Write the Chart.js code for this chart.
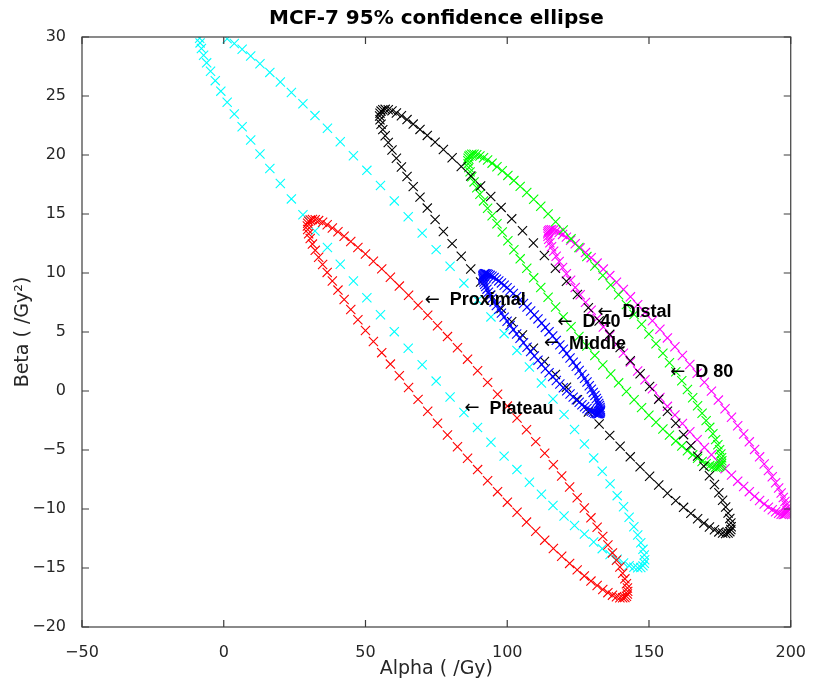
<!DOCTYPE html>
<html>
<head>
<meta charset="utf-8">
<script src="https://cdn.jsdelivr.net/npm/chart.js@4/dist/chart.umd.min.js"></script>
<style>
  body { margin: 0; background: #fff; }
  #wrap { width: 814px; height: 686px; }
</style>
</head>
<body>
<div id="wrap"><canvas id="ellipseChart"></canvas></div>
<script>
// ellipse outlines, [alpha, beta] pairs
const plateau = [
    [142.5,-16.98],[29.5,13.98],
    [142.39,-16.69],[142.39,-17.21],[29.61,14.21],[29.61,13.69],
    [142.05,-16.33],[142.05,-17.39],[29.95,14.39],[29.95,13.33],
    [141.5,-15.92],[141.5,-17.5],[30.5,14.5],[30.5,12.92],
    [140.72,-15.45],[140.72,-17.53],[31.28,14.53],[31.28,12.45],
    [139.73,-14.92],[139.73,-17.52],[32.27,14.52],[32.27,11.92],
    [138.53,-14.34],[138.53,-17.44],[33.47,14.44],[33.47,11.34],
    [137.12,-13.72],[137.12,-17.3],[34.88,14.3],[34.88,10.72],
    [135.51,-13.05],[135.51,-17.09],[36.49,14.09],[36.49,10.05],
    [133.7,-12.32],[133.7,-16.82],[38.3,13.82],[38.3,9.32],
    [131.71,-11.55],[131.71,-16.49],[40.29,13.49],[40.29,8.55],
    [129.53,-10.75],[129.53,-16.11],[42.47,13.11],[42.47,7.75],
    [127.19,-9.91],[127.19,-15.67],[44.81,12.67],[44.81,6.91],
    [124.68,-9.04],[124.68,-15.16],[47.32,12.16],[47.32,6.04],
    [122.01,-8.13],[122.01,-14.61],[49.99,11.61],[49.99,5.13],
    [119.21,-7.2],[119.21,-14.0],[52.79,11.0],[52.79,4.2],
    [116.27,-6.25],[116.27,-13.35],[55.73,10.35],[55.73,3.25],
    [113.22,-5.28],[113.22,-12.64],[58.78,9.64],[58.78,2.28],
    [110.06,-4.29],[110.06,-11.89],[61.94,8.89],[61.94,1.29],
    [106.8,-3.29],[106.8,-11.11],[65.2,8.11],[65.2,0.29],
    [103.46,-2.29],[103.46,-10.27],[68.54,7.27],[68.54,-0.71],
    [100.05,-1.28],[100.05,-9.42],[71.95,6.42],[71.95,-1.72],
    [96.59,-0.27],[96.59,-8.53],[75.41,5.53],[75.41,-2.73],
    [93.08,0.73],[93.08,-7.61],[78.92,4.61],[78.92,-3.73],
    [89.55,1.72],[89.55,-6.66],[82.45,3.66],[82.45,-4.72],
    [86,2.7],[86,-5.7]
];

const proximal = [
    [148.5,-14.3],[-8.5,29.9],
    [148.35,-13.9],[148.35,-14.6],[-8.35,29.5],
    [147.88,-13.42],[147.88,-14.82],[-7.88,29.02],
    [147.11,-12.86],[147.11,-14.96],[-7.11,28.46],
    [146.03,-12.21],[146.03,-14.99],[-6.03,27.81],
    [144.66,-11.5],[144.66,-14.94],[-4.66,27.1],
    [142.99,-10.7],[142.99,-14.8],[-2.99,26.3],
    [141.03,-9.81],[141.03,-14.57],[-1.03,25.41],
    [138.79,-8.87],[138.79,-14.25],[1.21,29.85],[1.21,24.47],
    [136.28,-7.87],[136.28,-13.85],[3.72,29.45],[3.72,23.47],
    [133.51,-6.8],[133.51,-13.36],[6.49,28.96],[6.49,22.4],
    [130.49,-5.67],[130.49,-12.79],[9.51,28.39],[9.51,21.27],
    [127.22,-4.49],[127.22,-12.13],[12.78,27.73],[12.78,20.09],
    [123.74,-3.26],[123.74,-11.4],[16.26,27.0],[16.26,18.86],
    [120.04,-1.99],[120.04,-10.59],[19.96,26.19],[19.96,17.59],
    [116.14,-0.68],[116.14,-9.7],[23.86,25.3],[23.86,16.28],
    [112.06,0.67],[112.06,-8.75],[27.94,24.35],[27.94,14.93],
    [107.82,2.04],[107.82,-7.74],[32.18,23.34],[32.18,13.56],
    [103.42,3.44],[103.42,-6.66],[36.58,22.26],[36.58,12.16],
    [98.9,4.86],[98.9,-5.52],[41.1,21.12],[41.1,10.74],
    [94.26,6.28],[94.26,-4.34],[45.74,19.94],[45.74,9.32],
    [89.52,7.7],[89.52,-3.1],[50.48,18.7],[50.48,7.9],
    [84.71,9.14],[84.71,-1.82],[55.29,17.42],[55.29,6.46],
    [79.84,10.57],[79.84,-0.51],[60.16,16.11],[60.16,5.03],
    [74.93,11.98],[74.93,0.84],[65.07,14.76],[65.07,3.62],
    [70,13.38],[70,2.22]
];

const middle = [
    [132.9,-1.67],[91.4,9.67],
    [132.86,-1.54],[132.86,-1.76],[91.44,9.76],[91.44,9.54],
    [132.74,-1.4],[132.74,-1.84],[91.56,9.84],[91.56,9.4],
    [132.53,-1.23],[132.53,-1.89],[91.77,9.89],[91.77,9.23],
    [132.25,-1.05],[132.25,-1.93],[92.05,9.93],[92.05,9.05],
    [131.88,-0.85],[131.88,-1.93],[92.42,9.93],[92.42,8.85],
    [131.44,-0.63],[131.44,-1.91],[92.86,9.91],[92.86,8.63],
    [130.93,-0.38],[130.93,-1.88],[93.37,9.88],[93.37,8.38],
    [130.33,-0.12],[130.33,-1.8],[93.97,9.8],[93.97,8.12],
    [129.67,0.16],[129.67,-1.72],[94.63,9.72],[94.63,7.84],
    [128.94,0.45],[128.94,-1.61],[95.36,9.61],[95.36,7.55],
    [128.14,0.76],[128.14,-1.48],[96.16,9.48],[96.16,7.24],
    [127.28,1.07],[127.28,-1.33],[97.02,9.33],[97.02,6.93],
    [126.35,1.4],[126.35,-1.16],[97.95,9.16],[97.95,6.6],
    [125.38,1.74],[125.38,-0.96],[98.92,8.96],[98.92,6.26],
    [124.35,2.09],[124.35,-0.75],[99.95,8.75],[99.95,5.91],
    [123.27,2.44],[123.27,-0.52],[101.03,8.52],[101.03,5.56],
    [122.15,2.8],[122.15,-0.26],[102.15,8.26],[102.15,5.2],
    [120.98,3.17],[120.98,0.01],[103.32,7.99],[103.32,4.83],
    [119.79,3.54],[119.79,0.28],[104.51,7.72],[104.51,4.46],
    [118.56,3.91],[118.56,0.59],[105.74,7.41],[105.74,4.09],
    [117.31,4.29],[117.31,0.89],[106.99,7.11],[106.99,3.71],
    [116.04,4.66],[116.04,1.22],[108.26,6.78],[108.26,3.34],
    [114.75,5.03],[114.75,1.55],[109.55,6.45],[109.55,2.97],
    [113.45,5.39],[113.45,1.89],[110.85,6.11],[110.85,2.61],
    [112.15,5.75],[112.15,2.25]
];

const d40 = [
    [179,-11.5],[55,23.3],
    [178.88,-11.18],[178.88,-11.74],[55.12,23.54],[55.12,22.98],
    [178.51,-10.8],[178.51,-11.92],[55.49,23.72],[55.49,22.6],
    [177.9,-10.35],[177.9,-12.03],[56.1,23.83],[56.1,22.15],
    [177.05,-9.83],[177.05,-12.07],[56.95,23.87],[56.95,21.63],
    [175.97,-9.26],[175.97,-12.04],[58.03,23.84],[58.03,21.06],
    [174.65,-8.62],[174.65,-11.94],[59.35,23.74],[59.35,20.42],
    [173.1,-7.92],[173.1,-11.76],[60.9,23.56],[60.9,19.72],
    [171.33,-7.18],[171.33,-11.52],[62.67,23.32],[62.67,18.98],
    [169.35,-6.38],[169.35,-11.2],[64.65,23.0],[64.65,18.18],
    [167.16,-5.52],[167.16,-10.82],[66.84,22.62],[66.84,17.32],
    [164.77,-4.63],[164.77,-10.37],[69.23,22.17],[69.23,16.43],
    [162.2,-3.7],[162.2,-9.86],[71.8,21.66],[71.8,15.5],
    [159.44,-2.73],[159.44,-9.29],[74.56,21.09],[74.56,14.53],
    [156.52,-1.72],[156.52,-8.66],[77.48,20.46],[77.48,13.52],
    [153.44,-0.69],[153.44,-7.97],[80.56,19.77],[80.56,12.49],
    [150.22,0.38],[150.22,-7.22],[83.78,19.02],[83.78,11.42],
    [146.87,1.46],[146.87,-6.42],[87.13,18.22],[87.13,10.34],
    [143.4,2.56],[143.4,-5.58],[90.6,17.38],[90.6,9.24],
    [139.82,3.68],[139.82,-4.68],[94.18,16.48],[94.18,8.12],
    [136.16,4.8],[136.16,-3.76],[97.84,15.56],[97.84,7.0],
    [132.42,5.93],[132.42,-2.79],[101.58,14.59],[101.58,5.87],
    [128.62,7.06],[128.62,-1.78],[105.38,13.58],[105.38,4.74],
    [124.77,8.18],[124.77,-0.74],[109.23,12.54],[109.23,3.62],
    [120.89,9.3],[120.89,0.32],[113.11,11.48],[113.11,2.5],
    [117,10.4],[117,1.4]
];

const distal = [
    [175.7,-5.91],[86.1,19.51],
    [175.61,-5.65],[175.61,-6.13],[86.19,19.73],[86.19,19.25],
    [175.35,-5.33],[175.35,-6.29],[86.45,19.89],[86.45,18.93],
    [174.91,-4.97],[174.91,-6.39],[86.89,19.99],[86.89,18.57],
    [174.29,-4.56],[174.29,-6.46],[87.51,20.06],[87.51,18.16],
    [173.51,-4.12],[173.51,-6.46],[88.29,20.06],[88.29,17.72],
    [172.55,-3.62],[172.55,-6.42],[89.25,20.02],[89.25,17.22],
    [171.44,-3.08],[171.44,-6.32],[90.36,19.92],[90.36,16.68],
    [170.16,-2.51],[170.16,-6.17],[91.64,19.77],[91.64,16.11],
    [168.73,-1.89],[168.73,-5.97],[93.07,19.57],[93.07,15.49],
    [167.14,-1.25],[167.14,-5.71],[94.66,19.31],[94.66,14.85],
    [165.42,-0.57],[165.42,-5.41],[96.38,19.01],[96.38,14.17],
    [163.56,0.13],[163.56,-5.07],[98.24,18.67],[98.24,13.47],
    [161.57,0.87],[161.57,-4.67],[100.23,18.27],[100.23,12.73],
    [159.46,1.63],[159.46,-4.23],[102.34,17.83],[102.34,11.97],
    [157.23,2.4],[157.23,-3.74],[104.57,17.34],[104.57,11.2],
    [154.91,3.2],[154.91,-3.22],[106.89,16.82],[106.89,10.4],
    [152.48,4.01],[152.48,-2.65],[109.32,16.25],[109.32,9.59],
    [149.97,4.83],[149.97,-2.05],[111.83,15.65],[111.83,8.77],
    [147.39,5.65],[147.39,-1.41],[114.41,15.01],[114.41,7.95],
    [144.74,6.48],[144.74,-0.74],[117.06,14.34],[117.06,7.12],
    [142.04,7.32],[142.04,-0.04],[119.76,13.64],[119.76,6.28],
    [139.29,8.15],[139.29,0.69],[122.51,12.91],[122.51,5.45],
    [136.51,8.98],[136.51,1.44],[125.29,12.16],[125.29,4.62],
    [133.71,9.79],[133.71,2.21],[128.09,11.39],[128.09,3.81],
    [130.9,10.6],[130.9,3.0]
];

const d80 = [
    [198.7,-10.12],[114.3,13.32],
    [198.62,-9.91],[198.62,-10.27],[114.38,13.47],[114.38,13.11],
    [198.37,-9.66],[198.37,-10.38],[114.63,13.58],[114.63,12.86],
    [197.95,-9.37],[197.95,-10.45],[115.05,13.65],[115.05,12.57],
    [197.37,-9.03],[197.37,-10.47],[115.63,13.67],[115.63,12.23],
    [196.63,-8.64],[196.63,-10.44],[116.37,13.64],[116.37,11.84],
    [195.74,-8.22],[195.74,-10.36],[117.26,13.56],[117.26,11.42],
    [194.68,-7.77],[194.68,-10.23],[118.32,13.43],[118.32,10.97],
    [193.48,-7.27],[193.48,-10.07],[119.52,13.27],[119.52,10.47],
    [192.13,-6.74],[192.13,-9.84],[120.87,13.04],[120.87,9.94],
    [190.64,-6.18],[190.64,-9.58],[122.36,12.78],[122.36,9.38],
    [189.02,-5.58],[189.02,-9.28],[123.98,12.48],[123.98,8.78],
    [187.26,-4.95],[187.26,-8.93],[125.74,12.13],[125.74,8.15],
    [185.39,-4.31],[185.39,-8.53],[127.61,11.73],[127.61,7.51],
    [183.4,-3.64],[183.4,-8.1],[129.6,11.3],[129.6,6.84],
    [181.3,-2.94],[181.3,-7.64],[131.7,10.84],[131.7,6.14],
    [179.11,-2.23],[179.11,-7.13],[133.89,10.33],[133.89,5.43],
    [176.83,-1.5],[176.83,-6.58],[136.17,9.78],[136.17,4.7],
    [174.47,-0.77],[174.47,-6.01],[138.53,9.21],[138.53,3.97],
    [172.03,-0.01],[172.03,-5.41],[140.97,8.61],[140.97,3.21],
    [169.54,0.74],[169.54,-4.78],[143.46,7.98],[143.46,2.46],
    [166.99,1.5],[166.99,-4.12],[146.01,7.32],[146.01,1.7],
    [164.41,2.25],[164.41,-3.45],[148.59,6.65],[148.59,0.95],
    [161.79,3.01],[161.79,-2.75],[151.21,5.95],[151.21,0.19],
    [159.15,3.75],[159.15,-2.03],[153.85,5.23],[153.85,-0.55],
    [156.5,4.5],[156.5,-1.3]
];

const xTicks = [-50, 0, 50, 100, 150, 200];
const yTicks = [-20, -15, -10, -5, 0, 5, 10, 15, 20, 25, 30];

// text labels with their arrow tips
const labelText = ['Proximal', 'Plateau', 'D 40', 'Middle', 'Distal', 'D 80'];
const labelAlpha = [70.9, 84.9, 117.7, 113.0, 131.8, 157.5];
const labelBeta = [7.7, -1.5, 5.85, 4.0, 6.7, 1.6];

function ellipseSet(label, pts, colour) {
    return {
        label: label,
        data: pts.map(p => ({x: p[0], y: p[1]})),
        pointStyle: 'crossRot',
        pointRadius: 6.5,
        borderWidth: 1.1,
        borderColor: colour,
        backgroundColor: colour,
        showLine: false
    };
}

// box round the axes with inward ticks, plus the arrow labels
const boxPlugin = {
    id: 'boxPlugin',
    afterDatasetsDraw(chart) {
        const ctx = chart.ctx;
        const a = chart.chartArea;
        const xs = chart.scales.x, ys = chart.scales.y;
        ctx.save();
        ctx.strokeStyle = '#3c3c3c';
        ctx.lineWidth = 1.2;
        ctx.strokeRect(a.left, a.top, a.right - a.left, a.bottom - a.top);
        ctx.beginPath();
        xTicks.forEach(v => {
            const px = xs.getPixelForValue(v);
            ctx.moveTo(px, a.bottom); ctx.lineTo(px, a.bottom - 7);
            ctx.moveTo(px, a.top); ctx.lineTo(px, a.top + 7);
        });
        yTicks.forEach(v => {
            const py = ys.getPixelForValue(v);
            ctx.moveTo(a.left, py); ctx.lineTo(a.left + 7, py);
            ctx.moveTo(a.right, py); ctx.lineTo(a.right - 7, py);
        });
        ctx.stroke();

        ctx.fillStyle = '#000';
        ctx.textBaseline = 'middle';
        ctx.textAlign = 'left';
        labelText.forEach((t, i) => {
            const px = xs.getPixelForValue(labelAlpha[i]);
            const py = ys.getPixelForValue(labelBeta[i]);
            ctx.font = '18px "DejaVu Sans"';
            ctx.fillText('\u2190', px, py);
            ctx.font = 'bold 18px "Liberation Sans"';
            ctx.fillText(t, px + 25, py);
        });
        ctx.restore();
    }
};

const tickFont = {family: 'DejaVu Sans', size: 16};
const titleFont = {family: 'DejaVu Sans', size: 19};

new Chart(document.getElementById('ellipseChart'), {
    type: 'scatter',
    data: {
        datasets: [
            ellipseSet('Middle', middle, '#0000ff'),
            ellipseSet('D 40', d40, '#000000'),
            ellipseSet('Distal', distal, '#00ff00'),
            ellipseSet('D 80', d80, '#ff00ff'),
            ellipseSet('Plateau', plateau, '#ff0000'),
            ellipseSet('Proximal', proximal, '#00ffff')
        ]
    },
    options: {
        responsive: true,
        maintainAspectRatio: false,
        animation: false,
        events: [],
        layout: {padding: {top: 0, left: 0, right: 20, bottom: 0}},
        scales: {
            x: {
                type: 'linear',
                min: -50,
                max: 200,
                afterBuildTicks: s => { s.ticks = xTicks.map(v => ({value: v})); },
                afterFit: s => { s.height = 59; },
                grid: {display: false},
                border: {display: false},
                ticks: {
                    font: tickFont,
                    color: '#262626',
                    padding: 8,
                    maxRotation: 0,
                    callback: v => String(v).replace('-', '\u2212')
                },
                title: {display: true, text: 'Alpha ( /Gy)', font: titleFont, color: '#262626', padding: {top: 0, bottom: 6}}
            },
            y: {
                type: 'linear',
                min: -20,
                max: 30,
                afterBuildTicks: s => { s.ticks = yTicks.map(v => ({value: v})); },
                afterFit: s => { s.width = 82; },
                grid: {display: false},
                border: {display: false},
                ticks: {
                    font: tickFont,
                    color: '#262626',
                    padding: 8,
                    callback: v => String(v).replace('-', '\u2212')
                },
                title: {display: true, text: 'Beta ( /Gy\u00b2)', font: titleFont, color: '#262626', padding: {top: 11.6, bottom: 0}}
            }
        },
        plugins: {
            legend: {display: false},
            tooltip: {enabled: false},
            title: {
                display: true,
                fullSize: false,
                text: 'MCF-7 95% confidence ellipse',
                color: '#000',
                font: {family: 'DejaVu Sans', size: 20, weight: 'bold'},
                padding: {top: 7, bottom: 6}
            }
        }
    },
    plugins: [boxPlugin]
});
</script>
</body>
</html>
